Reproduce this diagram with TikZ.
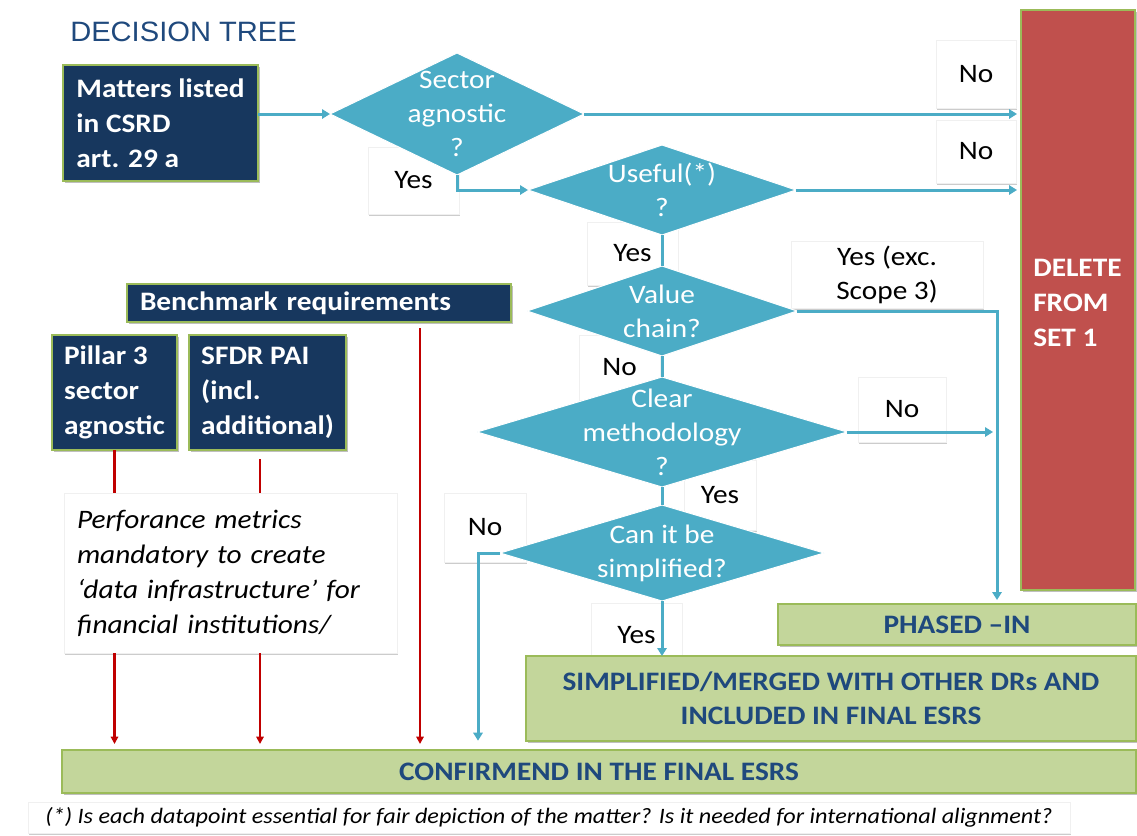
\documentclass[tikz,border=0pt]{standalone}
\usepackage{fontspec}
\setmainfont{Carlito}[FakeStretch=1.1]
\newfontfamily\arialf{Liberation Sans}[FakeStretch=1.04]
\usetikzlibrary{shapes.geometric,arrows.meta,shadows}
\definecolor{navy}{RGB}{23,55,94}
\definecolor{gborder}{RGB}{155,187,89}
\definecolor{dteal}{RGB}{75,172,198}
\definecolor{delred}{RGB}{192,80,77}
\definecolor{lgreen}{RGB}{195,214,155}
\definecolor{dblue}{RGB}{31,73,125}
\definecolor{dred}{RGB}{192,0,0}
\newcommand\mainsz{\fontsize{20}{26.25}\selectfont}
\tikzset{
  wh/.style 2 args={minimum width=#1*0.75pt, minimum height=#2*0.75pt},
  shad/.style={drop shadow={shadow xshift=1.5pt, shadow yshift=-1.5pt, fill=black, opacity=0.25}},
  navybox/.style={shad, draw=gborder, line width=1.2pt, fill=navy, text=white,
    font=\mainsz\bfseries, align=left, inner sep=0pt, outer sep=0pt},
  greenbox/.style={shad, draw=gborder, line width=1.2pt, fill=lgreen, text=dblue,
    font=\mainsz\bfseries, align=center, inner sep=0pt, outer sep=0pt},
  lblbox/.style={drop shadow={shadow xshift=1pt, shadow yshift=-1.5pt, fill=black, opacity=0.2},
    draw=black!6, line width=0.4pt, fill=white, text=black, font=\mainsz, align=center, inner sep=0pt},
  decision/.style={diamond, draw=white, line width=0.75pt, fill=dteal, inner sep=0pt, outer sep=0pt},
  dtext/.style={text=white, font=\fontsize{20}{25.5}\selectfont, align=center, inner sep=0pt},
  conn/.style={draw=dteal, line width=2.25pt},
  redconn/.style={draw=dred, line width=1.8pt},
  btip/.style={-{Triangle[length=6pt,width=7pt]}},
  rtip/.style={-{Triangle[length=5.5pt,width=5.5pt]}}
}
\begin{document}
\begin{tikzpicture}[x=0.75pt,y=-0.75pt]
\fill[white] (0,0) rectangle (1137,835);
\useasboundingbox (0,0) rectangle (1137,835);

% title
\node[anchor=west, inner sep=0pt, text=dblue, font=\arialf\fontsize{21}{25}\selectfont] (title) at (70,32) {DECISION TREE};

% label boxes
\node[lblbox, wh={91}{67}] (l1) at (413.5,180.5) {Yes};
\node[lblbox, wh={80}{68}] (l2) at (976,74) {No};
\node[lblbox, wh={80}{63}] (l3) at (976,151.5) {No};
\node[lblbox, wh={91}{63}] (l4) at (632.5,253.5) {Yes};
\node[lblbox, wh={192}{67}, font=\fontsize{20}{25.5}\selectfont] (l5) at (887,275) {Yes (exc.\\Scope 3)};
\node[lblbox, wh={81}{65}] (l6) at (619.5,367.5) {No};
\node[lblbox, wh={88}{65}] (l7) at (902,409.5) {No};
\node[lblbox, wh={72}{70}] (l8) at (720,495) {Yes};
\node[lblbox, wh={82}{69}] (l9) at (485,527.5) {No};
\node[lblbox, wh={91}{65}] (l10) at (636.5,635.5) {Yes};

% boxes
\node[navybox, wh={195}{116}] (m) at (160.5,123) {Matters listed\\in CSRD\\art. 29 a};
\node[navybox, wh={384}{38}, text width=268.5pt] (bm) at (319,303) {Benchmark requirements};
\node[navybox, wh={125}{115}] (p3) at (114.5,392.5) {Pillar 3\\sector\\agnostic};
\node[navybox, wh={157}{115}] (sf) at (267.5,392.5) {SFDR PAI\\(incl.\\additional)};
\node[lblbox, wh={333}{160}, font=\mainsz\itshape, align=left, text width=230.25pt] (perf) at (230.5,573)
  {Perforance metrics\\mandatory to create\\‘data infrastructure’ for\\financial institutions/};
\node[navybox, fill=delred, wh={114}{580}] (del) at (1078,300) {};
\node[anchor=west, align=left, text=white, font=\mainsz\bfseries, inner sep=0pt] (deltext) at (1033,302.5) {DELETE\\FROM\\SET 1};
\node[greenbox, wh={358}{41}] (ph) at (957,624.5) {PHASED –IN};
\node[greenbox, wh={610}{85}, font=\fontsize{20}{25.5}\selectfont\bfseries] (simp) at (831,698.5) {SIMPLIFIED/MERGED WITH OTHER DRs AND\\INCLUDED IN FINAL ESRS};
\node[greenbox, wh={1074}{43}] (conf) at (599,771.5) {CONFIRMEND IN THE FINAL ESRS};
\node[lblbox, wh={1042}{31}, font=\fontsize{16.5}{19}\selectfont\itshape] (foot) at (549,817.5)
  {(*) Is each datapoint essential for fair depiction of the matter? Is it needed for international alignment?};

% diamonds
\node[decision, wh={254}{122}] (d1) at (457,114) {};
\node[decision, wh={268}{90}] (d2) at (662,190) {};
\node[decision, wh={270}{90}] (d3) at (662,311) {};
\node[decision, wh={370}{110}] (d4) at (662,432) {};
\node[decision, wh={324}{96}] (d5) at (662,553) {};

% connectors (blue)
\coordinate (vx) at (997,311);
\coordinate (vb) at (478,553);
\draw[conn,btip] (m.east |- d1.west) -- (d1.west);
\draw[conn,btip] (d1.south) |- (d2.west);
\draw[conn,btip,shorten >=3pt] (d1.east) -- (d1.east -| del.west);
\draw[conn,btip,shorten >=3pt] (d2.east) -- (d2.east -| del.west);
\draw[conn] (d2.south) -- (d3.north);
\draw[conn,btip,shorten >=3pt] (d3.east) -- (vx) -- (vx |- ph.north);
\draw[conn] (d3.south) -- (d4.north);
\draw[conn,btip,shorten >=3pt] (d4.east) -- (d4.east -| vx);
\draw[conn] (d4.south) -- (d5.north);
\draw[conn,btip,shorten >=7pt] (d5.west) -- (vb) -- (vb |- conf.north);
\draw[conn,btip] (d5.south) -- (d5.south |- simp.north);

% connectors (red)
\coordinate (sx) at (260,459);
\coordinate (bx) at (420,328);
\draw[redconn] (p3.south) -- (p3.south |- perf.north);
\draw[redconn,rtip,shorten >=4.5pt] (p3.south |- perf.south) -- (p3.south |- conf.north);
\draw[redconn] (sx) -- (sx |- perf.north);
\draw[redconn,rtip,shorten >=4.5pt] (sx |- perf.south) -- (sx |- conf.north);
\draw[redconn,rtip,shorten >=4.5pt] (bx) -- (bx |- conf.north);

% diamond texts
\node[dtext] (t1) at (d1) {Sector\\agnostic\\?};
\node[dtext] (t2) at (d2) {Useful(*)\\?};
\node[dtext] (t3) at (d3) {Value\\chain?};
\node[dtext] (t4) at (d4) {Clear\\methodology\\?};
\node[dtext] (t5) at (d5) {Can it be\\simplified?};
\end{tikzpicture}
\end{document}
